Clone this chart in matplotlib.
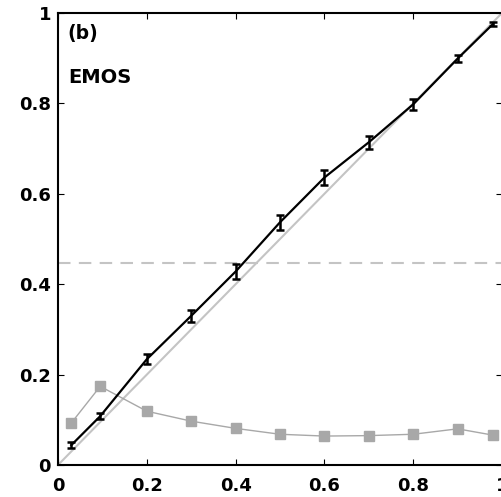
import matplotlib.pyplot as plt

plt.rcParams['font.family'] = ['DejaVu Sans']

# forecast probability bins
prob = [0.03, 0.095, 0.2, 0.3, 0.4, 0.5, 0.6, 0.7, 0.8, 0.9, 0.98]
# observed relative frequency and error bar half-widths
obs_freq = [0.044, 0.108, 0.234, 0.330, 0.428, 0.537, 0.636, 0.714, 0.798, 0.899, 0.976]
obs_err = [0.007, 0.007, 0.011, 0.014, 0.016, 0.017, 0.017, 0.015, 0.012, 0.008, 0.005]
# relative frequency of forecasts in each bin (sharpness)
fc_freq = [0.093, 0.174, 0.119, 0.097, 0.081, 0.068, 0.064, 0.065, 0.068, 0.080, 0.066]
climatology = 0.446

fig = plt.figure(figsize=(5.01, 4.97), dpi=100)
ax = fig.add_axes([0.1158, 0.0644, 0.8862, 0.9094])

ax.plot([0, 1], [0, 1], color="#c4c4c4", lw=1.5, zorder=1)
ax.axhline(climatology, color="#c4c4c4", lw=1.5, ls=(0, (6, 4)), zorder=1)
ax.plot(prob, fc_freq, color="#a8a8a8", lw=1.0, marker="s", markersize=6.5,
        markerfacecolor="#a8a8a8", markeredgecolor="#a8a8a8", zorder=2)
ax.errorbar(prob, obs_freq, yerr=obs_err, color="black", lw=1.6, capsize=3.2,
            capthick=1.8, elinewidth=1.8, zorder=3)

ax.set_xlim(0, 1)
ax.set_ylim(0, 1)
ticks = [0, 0.2, 0.4, 0.6, 0.8, 1]
tick_labels = ["0", "0.2", "0.4", "0.6", "0.8", "1"]
ax.set_xticks(ticks)
ax.set_xticklabels(tick_labels)
ax.set_yticks(ticks)
ax.set_yticklabels(tick_labels)
ax.tick_params(direction="in", top=True, right=True, length=4, width=0.8,
               labelsize=13, pad=5)
ax.tick_params(axis="x", pad=9)
for lab in ax.get_xticklabels() + ax.get_yticklabels():
    lab.set_fontweight("bold")
for sp in ax.spines.values():
    sp.set_linewidth(1.5)

ax.text(0.022, 0.955, "(b)", transform=ax.transAxes, fontsize=13.5,
        fontweight="bold", va="center", ha="left")
ax.text(0.022, 0.857, "EMOS", transform=ax.transAxes, fontsize=14,
        fontweight="bold", va="center", ha="left")

fig.savefig("out.png", dpi=100)
